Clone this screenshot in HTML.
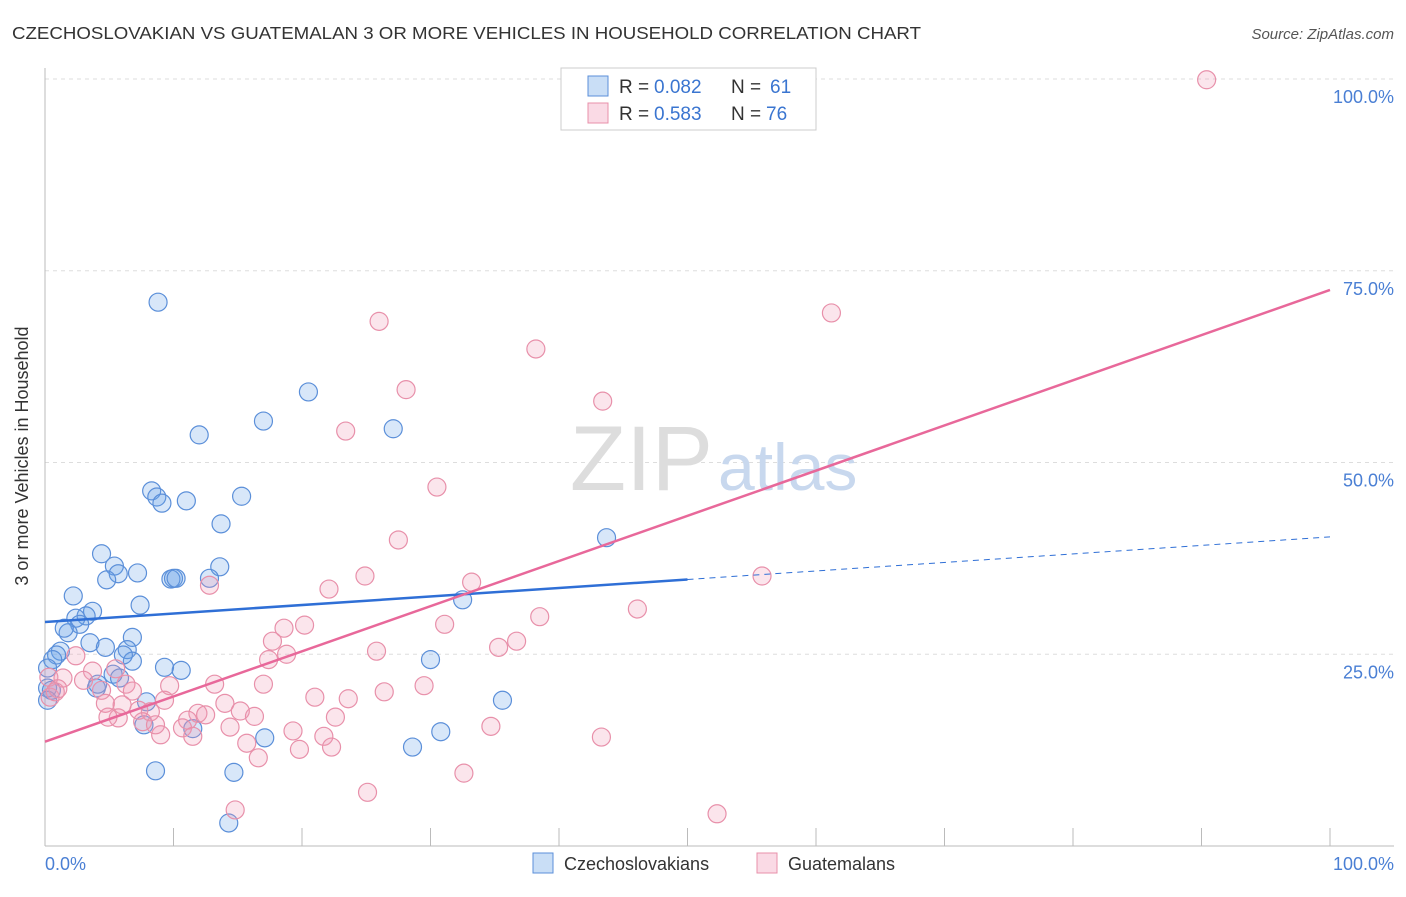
<!DOCTYPE html>
<html><head><meta charset="utf-8"><style>
body{margin:0;background:#fff;font-family:"Liberation Sans",sans-serif;}
svg text{font-family:"Liberation Sans",sans-serif;}
</style></head><body>
<svg width="1406" height="892" xmlns="http://www.w3.org/2000/svg">
<text x="12" y="39" font-size="17.5" fill="#333" textLength="909" lengthAdjust="spacingAndGlyphs">CZECHOSLOVAKIAN VS GUATEMALAN 3 OR MORE VEHICLES IN HOUSEHOLD CORRELATION CHART</text>
<text x="1394" y="39" font-size="15" fill="#555" text-anchor="end" font-style="italic">Source: ZipAtlas.com</text>
<g id="grid"></g>
<text x="713" y="490" font-size="92" fill="#ddd" text-anchor="end" font-family="Liberation Serif">ZIP</text>
<text x="718" y="490" font-size="66" fill="#c8d8ee">atlas</text>
<line x1="45" y1="68" x2="45" y2="846" stroke="#bbb"/>
<line x1="45" y1="846" x2="1394" y2="846" stroke="#bbb"/>
<g id="ticks"></g>
<g id="pts"></g>
<g id="trends"></g>
<text x="28" y="456" font-size="18" fill="#333" text-anchor="middle" transform="rotate(-90 28 456)">3 or more Vehicles in Household</text>
<text x="45" y="870" font-size="18" fill="#4a7fd4">0.0%</text>
<text x="1394" y="870" font-size="18" fill="#4a7fd4" text-anchor="end">100.0%</text>
<g>
<rect x="561" y="68" width="255" height="62" fill="#fff" stroke="#ccc"/>
<rect x="588" y="76" width="20" height="20" fill="rgba(100,160,230,0.35)" stroke="#5b8fd9"/>
<rect x="588" y="103" width="20" height="20" fill="rgba(240,150,180,0.35)" stroke="#e890aa"/>
<text x="619" y="93" font-size="19" fill="#333">R =</text>
<text x="654" y="93" font-size="19" fill="#3a75d0">0.082</text>
<text x="731" y="93" font-size="19" fill="#333">N =</text>
<text x="770" y="93" font-size="19" fill="#3a75d0">61</text>
<text x="619" y="120" font-size="19" fill="#333">R =</text>
<text x="654" y="120" font-size="19" fill="#3a75d0">0.583</text>
<text x="731" y="120" font-size="19" fill="#333">N =</text>
<text x="766" y="120" font-size="19" fill="#3a75d0">76</text>
</g>
<g>
<rect x="533" y="853" width="20" height="20" fill="rgba(100,160,230,0.35)" stroke="#5b8fd9"/>
<text x="564" y="870" font-size="18" fill="#333">Czechoslovakians</text>
<rect x="757" y="853" width="20" height="20" fill="rgba(240,150,180,0.35)" stroke="#e890aa"/>
<text x="788" y="870" font-size="18" fill="#333">Guatemalans</text>
</g>
</svg>
<script>
const yTicks=[25,50,75,100];
const yTickLabels=["25.0%","50.0%","75.0%","100.0%"];
const xTicks=[10,20,30,40,50,60,70,80,90,100];
const blueX=[8.8,20.5,17.0,27.1,12.0,8.3,8.7,9.1,11.0,15.3,13.7,43.7,4.4,5.4,5.7,4.8,7.2,13.6,10.0,9.8,10.2,12.8,2.2,7.4,3.7,3.2,2.4,2.7,1.8,1.5,32.5,6.8,3.5,4.7,6.4,1.2,0.9,0.6,0.2,30.0,6.8,6.1,10.6,9.3,5.3,4.0,0.2,0.5,7.9,35.6,7.7,11.5,30.8,17.1,28.6,8.6,14.7,14.3,0.2,5.8,4.1];
const blueY=[70.9,59.2,55.4,54.4,53.6,46.3,45.5,44.7,45.0,45.6,42.0,40.2,38.1,36.5,35.5,34.7,35.6,36.4,34.9,34.8,34.9,34.9,32.6,31.4,30.6,30.0,29.7,28.9,27.8,28.4,32.1,27.2,26.5,25.9,25.6,25.4,24.9,24.3,23.2,24.3,24.1,24.9,22.9,23.3,22.4,20.6,20.6,20.3,18.8,19.0,15.8,15.3,14.9,14.1,12.9,9.8,9.6,3.0,19.0,21.9,21.1];
const pinkX=[90.4,26.0,61.2,38.2,28.1,43.4,23.4,30.5,27.5,55.8,24.9,33.2,22.1,12.8,46.1,38.5,31.1,20.2,18.6,17.7,36.7,35.3,25.8,18.8,17.4,2.4,3.7,0.3,1.4,3.0,5.5,6.3,13.2,29.5,26.4,17.0,9.7,21.0,23.6,4.4,6.8,4.7,9.3,14.0,6.0,7.3,11.9,8.2,15.2,12.5,16.3,7.6,11.1,14.4,10.7,22.6,34.7,19.3,21.7,43.3,9.0,11.5,15.7,22.3,19.8,16.6,32.6,25.1,14.8,52.3,0.4,0.8,5.7,4.9,8.6,1.0];
const pinkY=[99.9,68.4,69.5,64.8,59.5,58.0,54.1,46.8,39.9,35.2,35.2,34.4,33.5,34.0,30.9,29.9,28.9,28.8,28.4,26.7,26.7,25.9,25.4,25.0,24.3,24.8,22.8,22.0,21.9,21.6,23.1,21.1,21.1,20.9,20.1,21.1,20.9,19.4,19.2,20.3,20.2,18.6,19.0,18.6,18.4,17.7,17.3,17.5,17.6,17.1,16.9,16.2,16.4,15.5,15.4,16.8,15.6,15.0,14.3,14.2,14.5,14.3,13.4,12.9,12.6,11.5,9.5,7.0,4.7,4.2,19.4,20.1,16.7,16.8,15.8,20.5];
const blueTrend=[29.2,40.3];
const blueSolidEnd=50;
const pinkTrend=[13.6,72.5];
const NS="http://www.w3.org/2000/svg";
const sx=v=>45+v*12.85, sy=v=>846-v*7.67;
function mk(tag,attrs,parent){const e=document.createElementNS(NS,tag);for(const k in attrs)e.setAttribute(k,attrs[k]);parent.appendChild(e);return e;}
const grid=document.getElementById('grid');
yTicks.forEach((t,i)=>{
 const l=mk('line',{x1:45,x2:1394,y1:sy(t),y2:sy(t),stroke:'#ddd','stroke-dasharray':'4,4'},grid);
 
 
 const tx=mk('text',{x:1394,y:sy(t)+24,'font-size':18,fill:'#4a7fd4','text-anchor':'end'},grid);
 tx.textContent=yTickLabels[i];
 
 
});
const ticks=document.getElementById('ticks');
xTicks.forEach(t=>{
 const l=mk('line',{x1:sx(t),x2:sx(t),y1:828,y2:846,stroke:'#bbb'},ticks);
 
 
});
const pts=document.getElementById('pts');
blueX.forEach((x,i)=>{
 const c=mk('circle',{cx:sx(x),cy:sy(blueY[i]),r:9,fill:'rgba(100,160,230,0.25)',stroke:'#5b8fd9','stroke-width':1.2},pts);
 
 
});
pinkX.forEach((x,i)=>{
 const c=mk('circle',{cx:sx(x),cy:sy(pinkY[i]),r:9,fill:'rgba(240,150,180,0.25)',stroke:'#e890aa','stroke-width':1.2},pts);
 
 
});
const tr=document.getElementById('trends');
const bAt=x=>blueTrend[0]+(blueTrend[1]-blueTrend[0])*x/100;
let l1=mk('line',{x1:sx(0),y1:sy(bAt(0)),x2:sx(blueSolidEnd),y2:sy(bAt(blueSolidEnd)),stroke:'#2f6fd6','stroke-width':2.5},tr);


let l2=mk('line',{x1:sx(blueSolidEnd),y1:sy(bAt(blueSolidEnd)),x2:sx(100),y2:sy(bAt(100)),stroke:'#2f6fd6','stroke-width':1,'stroke-dasharray':'6,5'},tr);


let l3=mk('line',{x1:sx(0),y1:sy(pinkTrend[0]),x2:sx(100),y2:sy(pinkTrend[1]),stroke:'#e8689a','stroke-width':2.5},tr);


</script>
</body></html>
